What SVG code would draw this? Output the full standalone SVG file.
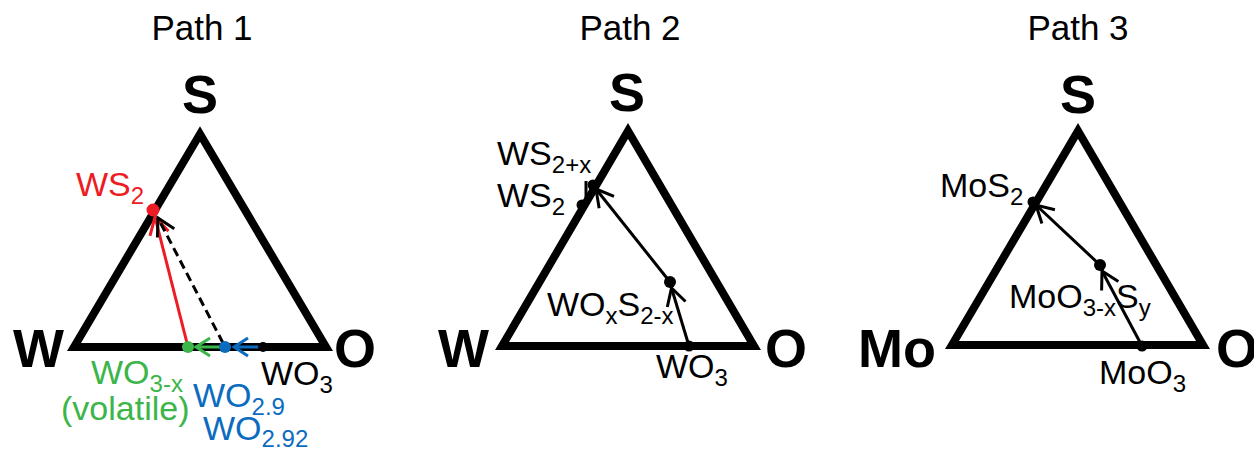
<svg xmlns="http://www.w3.org/2000/svg" width="1254" height="450" viewBox="0 0 1254 450">
<defs>
<style>
.title{font-family:"Liberation Sans",Arial,sans-serif;font-size:35px;fill:#000;text-anchor:middle}
.vtx{font-family:"Liberation Sans",Arial,sans-serif;font-size:54px;font-weight:bold;fill:#000}
.lbl{font-family:"Liberation Sans",Arial,sans-serif;font-size:34px}
.sub{font-size:24px}
.tri{fill:none;stroke:#000;stroke-width:8;stroke-linejoin:miter}
.ln{fill:none;stroke-width:3}
</style>
<marker id="ak" markerUnits="userSpaceOnUse" viewBox="-20 -12 22 24" refX="0" refY="0" markerWidth="22" markerHeight="24" orient="auto" overflow="visible"><path d="M-17,-9.5 L0,0 L-17,9.5" fill="none" stroke="#000" stroke-width="3"/></marker>
<marker id="ar" markerUnits="userSpaceOnUse" viewBox="-20 -12 22 24" refX="0" refY="0" markerWidth="22" markerHeight="24" orient="auto" overflow="visible"><path d="M-17,-9.5 L0,0 L-17,9.5" fill="none" stroke="#ed1c24" stroke-width="3"/></marker>
<marker id="ag" markerUnits="userSpaceOnUse" viewBox="-20 -12 22 24" refX="0" refY="0" markerWidth="22" markerHeight="24" orient="auto" overflow="visible"><path d="M-14,-9 L0,0 L-14,9" fill="none" stroke="#3cb54a" stroke-width="3"/></marker>
<marker id="ab" markerUnits="userSpaceOnUse" viewBox="-20 -12 22 24" refX="0" refY="0" markerWidth="22" markerHeight="24" orient="auto" overflow="visible"><path d="M-14,-9 L0,0 L-14,9" fill="none" stroke="#0b6cbf" stroke-width="3"/></marker>
</defs>
<rect width="1254" height="450" fill="#fff"/>

<!-- Titles -->
<text class="title" x="202" y="40">Path 1</text>
<text class="title" x="630" y="40">Path 2</text>
<text class="title" x="1078" y="40">Path 3</text>

<!-- Path 1 -->
<g id="tri1">
<polygon class="tri" points="74,347 200,134 326,347"/>
<text class="vtx" x="200" y="113" text-anchor="middle">S</text>
<text class="vtx" x="64" y="367" text-anchor="end">W</text>
<text class="vtx" x="334" y="367">O</text>
</g>

<g id="connectors1">
<line class="ln" x1="188" y1="347" x2="155" y2="217" stroke="#ed1c24" marker-end="url(#ar)"/>
<line class="ln" x1="223" y1="343" x2="158" y2="218" stroke="#000" stroke-dasharray="9,5" marker-end="url(#ak)"/>
<line class="ln" x1="225" y1="347" x2="196" y2="347" stroke="#3cb54a" marker-end="url(#ag)"/>
<line class="ln" x1="263" y1="347" x2="234" y2="347" stroke="#0b6cbf" marker-end="url(#ab)"/>
</g>

<g id="ws2-p1">
<circle cx="153" cy="210" r="6.5" fill="#ed1c24"/>
<text class="lbl" x="76" y="196" fill="#ed1c24">WS<tspan class="sub" dy="8">2</tspan></text>
</g>
<g id="wo3x-p1">
<circle cx="188" cy="347" r="6" fill="#3cb54a"/>
<text class="lbl" x="91" y="384" fill="#3cb54a">WO<tspan class="sub" dy="8">3-x</tspan></text>
<text class="lbl" x="61" y="420" fill="#3cb54a">(volatile)</text>
</g>
<g id="wo29-p1">
<circle cx="225" cy="347" r="6" fill="#0b6cbf"/>
<text class="lbl" x="193" y="407" fill="#0b6cbf">WO<tspan class="sub" dy="8">2.9</tspan></text>
<text class="lbl" x="203" y="440" fill="#0b6cbf">WO<tspan class="sub" dy="7">2.92</tspan></text>
</g>
<g id="wo3-p1">
<circle cx="263" cy="347" r="5" fill="#000"/>
<text class="lbl" x="261" y="385" fill="#000">WO<tspan class="sub" dy="8">3</tspan></text>
</g>

<!-- Path 2 -->
<g id="tri2">
<polygon class="tri" points="502,346 628,131 754,346"/>
<text class="vtx" x="627" y="111" text-anchor="middle">S</text>
<text class="vtx" x="438" y="367">W</text>
<text class="vtx" x="765" y="367">O</text>
</g>

<g id="connectors2">
<line class="ln" x1="689" y1="346" x2="671.5" y2="288" stroke="#000" marker-end="url(#ak)"/>
<line class="ln" x1="670" y1="282" x2="596" y2="189" stroke="#000" marker-end="url(#ak)"/>
<line class="ln" x1="586" y1="181" x2="586" y2="198" stroke="#000"/>
</g>

<g id="ws2x-p2">
<circle cx="593" cy="185" r="5.5" fill="#000"/>
<text class="lbl" x="497" y="165" fill="#000">WS<tspan class="sub" dy="8">2+x</tspan></text>
</g>
<g id="ws2-p2">
<circle cx="582" cy="205" r="5.5" fill="#000"/>
<text class="lbl" x="497" y="207" fill="#000">WS<tspan class="sub" dy="8">2</tspan></text>
</g>
<g id="woxs-p2">
<circle cx="670" cy="282" r="6" fill="#000"/>
<text class="lbl" x="547" y="316" fill="#000">WO<tspan class="sub" dy="8">x</tspan><tspan dy="-8">S</tspan><tspan class="sub" dy="8">2-x</tspan></text>
</g>
<g id="wo3-p2">
<circle cx="689" cy="346" r="5.5" fill="#000"/>
<text class="lbl" x="656" y="378" fill="#000">WO<tspan class="sub" dy="8">3</tspan></text>
</g>

<!-- Path 3 -->
<g id="tri3">
<polygon class="tri" points="952,345 1078,131 1203,345"/>
<text class="vtx" x="1078" y="113" text-anchor="middle">S</text>
<text class="vtx" x="858" y="367">Mo</text>
<text class="vtx" x="1216" y="367">O</text>
</g>

<g id="connectors3">
<line class="ln" x1="1142" y1="346" x2="1102" y2="271" stroke="#000" marker-end="url(#ak)"/>
<line class="ln" x1="1100" y1="265" x2="1036" y2="205" stroke="#000" marker-end="url(#ak)"/>
</g>

<g id="mos2-p3">
<circle cx="1033" cy="202" r="5.5" fill="#000"/>
<text class="lbl" x="940" y="197" fill="#000">MoS<tspan class="sub" dy="8">2</tspan></text>
</g>
<g id="mooxsy-p3">
<circle cx="1100" cy="265" r="6" fill="#000"/>
<text class="lbl" x="1009" y="308" fill="#000">MoO<tspan class="sub" dy="8">3-x</tspan><tspan dy="-8">S</tspan><tspan class="sub" dy="8">y</tspan></text>
</g>
<g id="moo3-p3">
<circle cx="1142" cy="346" r="5.5" fill="#000"/>
<text class="lbl" x="1099" y="384" fill="#000">MoO<tspan class="sub" dy="8">3</tspan></text>
</g>
</svg>
